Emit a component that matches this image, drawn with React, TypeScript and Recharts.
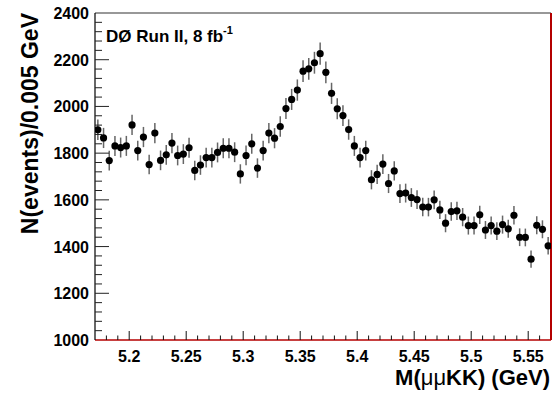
import { ScatterChart, Scatter, XAxis, YAxis, ErrorBar, ReferenceLine } from "recharts";

// histogram: 80 bins of 0.005 GeV from 5.17 to 5.57
const BIN_LOW = 5.17;
const BIN_WIDTH = 0.005;

const counts = [
  1900, 1865, 1768, 1831, 1824, 1831, 1921, 1811, 1869, 1751,
  1886, 1769, 1793, 1843, 1790, 1796, 1823, 1726, 1749, 1781,
  1781, 1803, 1821, 1821, 1804, 1711, 1790, 1840, 1736, 1811,
  1886, 1864, 1914, 1991, 2030, 2070, 2151, 2161, 2187, 2226,
  2146, 2056, 1990, 1961, 1901, 1831, 1781, 1811, 1686, 1709,
  1753, 1670, 1724, 1627, 1629, 1610, 1601, 1569, 1569, 1600,
  1557, 1500, 1550, 1553, 1526, 1490, 1490, 1536, 1471, 1490,
  1466, 1494, 1476, 1534, 1440, 1439, 1346, 1491, 1474, 1403,
];

const xMajorTicks = [5.2, 5.25, 5.3, 5.35, 5.4, 5.45, 5.5, 5.55];
const xTickLabels = ["5.2", "5.25", "5.3", "5.35", "5.4", "5.45", "5.5", "5.55"];
const yMajorTicks = [1000, 1200, 1400, 1600, 1800, 2000, 2200, 2400];
const yTickLabels = ["1000", "1200", "1400", "1600", "1800", "2000", "2200", "2400"];

// minor ticks every 0.01 GeV and every 40 events
const xAllTicks: number[] = [];
for (let i = 1; i < 40; i++) xAllTicks.push(Math.round((BIN_LOW + i * 0.01) * 1000) / 1000);
const yAllTicks: number[] = [];
for (let v = 1000; v <= 2400; v += 40) yAllTicks.push(v);
if (yAllTicks[yAllTicks.length - 1] !== 2400) yAllTicks.push(2400);

// poisson errors on the counts
const points = counts.map((n, i) => ({
  x: BIN_LOW + (i + 0.5) * BIN_WIDTH,
  y: n,
  err: Math.sqrt(n),
}));

const FONT = "'Liberation Sans', Arial, Helvetica, sans-serif";
const FRAME_RED = "#b40000";

const majorIndex = (list: number[], v: number) =>
  list.findIndex((m) => Math.abs(m - v) < 1e-6);

const XTick = (props: any) => {
  const { x, y, payload } = props;
  const idx = majorIndex(xMajorTicks, payload.value);
  const len = idx >= 0 ? 9 : 4.5;
  return (
    <g>
      <line x1={x} x2={x} y1={y} y2={y - len} stroke="#111" strokeWidth={1} />
      {idx >= 0 && (
        <text
          x={x}
          y={y + 22}
          textAnchor="middle"
          fontFamily={FONT}
          fontWeight="bold"
          fontSize={16}
          fill="#000"
        >
          {xTickLabels[idx]}
        </text>
      )}
    </g>
  );
};

const YTick = (props: any) => {
  const { x, y, payload } = props;
  const idx = majorIndex(yMajorTicks, payload.value);
  const len = idx >= 0 ? 14 : 7;
  return (
    <g>
      {payload.value > 1000 && payload.value < 2400 && (
        <line x1={x} x2={x + len} y1={y} y2={y} stroke="#222" strokeWidth={1} />
      )}
      {idx >= 0 && (
        <text
          x={x - 6}
          y={y + 6}
          textAnchor="end"
          fontFamily={FONT}
          fontWeight="bold"
          fontSize={16}
          fill="#000"
        >
          {yTickLabels[idx]}
        </text>
      )}
    </g>
  );
};

const Dot = (props: any) => <circle cx={props.cx} cy={props.cy} r={3.6} fill="#000" />;

export default function App() {
  return (
    <div style={{ position: "absolute", left: 0, top: 0, width: 552, height: 399, background: "#fff" }}>
      <ScatterChart
        width={552}
        height={399}
        margin={{ top: 13, right: 1, left: 0, bottom: 0 }}
      >
        <XAxis
          type="number"
          dataKey="x"
          domain={[5.17, 5.57]}
          ticks={xAllTicks}
          interval={0}
          tick={<XTick />}
          tickSize={0}
          tickMargin={0}
          tickLine={false}
          height={59}
          axisLine={{ stroke: FRAME_RED, strokeWidth: 1.5 }}
          allowDataOverflow
        />
        <YAxis
          type="number"
          dataKey="y"
          domain={[1000, 2400]}
          ticks={yAllTicks}
          interval={0}
          tick={<YTick />}
          tickSize={0}
          tickMargin={0}
          tickLine={false}
          width={95}
          axisLine={{ stroke: "#000", strokeWidth: 1.2 }}
          allowDataOverflow
        />
        <ReferenceLine y={2400} stroke="#333" strokeWidth={1.2} />
        <ReferenceLine x={5.57} stroke={FRAME_RED} strokeWidth={2} />
        <Scatter data={points} isAnimationActive={false} shape={<Dot />}>
          <ErrorBar dataKey="err" direction="y" width={0} stroke="#666" strokeWidth={1.5} />
        </Scatter>
      </ScatterChart>
      <svg
        width={552}
        height={399}
        style={{ position: "absolute", left: 0, top: 0, pointerEvents: "none" }}
      >
        <text x={106} y={42} fontFamily={FONT} fontWeight="bold" fontSize={17} fill="#000">
          DØ Run II, 8 fb
          <tspan fontSize={11} dy={-8}>-1</tspan>
        </text>
        <text
          transform="translate(38, 13) rotate(-90)"
          textAnchor="end"
          fontFamily={FONT}
          fontWeight="bold"
          fontSize={23}
          fill="#000"
        >
          N(events)/0.005 GeV
        </text>
        <text x={550} y={385} textAnchor="end" fontFamily={FONT} fontWeight="bold" fontSize={22} fill="#000">
          M(<tspan fontWeight="normal">μμ</tspan>KK) (GeV)
        </text>
      </svg>
    </div>
  );
}
